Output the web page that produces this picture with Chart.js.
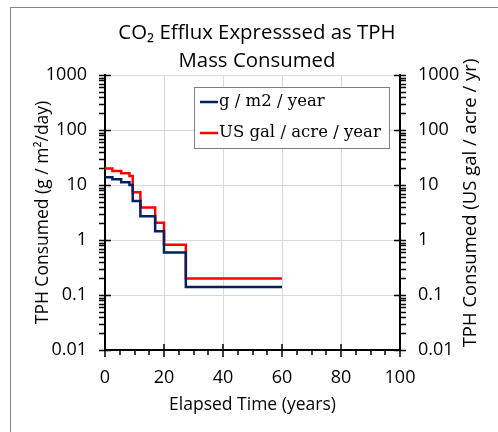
<!DOCTYPE html>
<html><head><meta charset="utf-8">
<script src="https://cdn.jsdelivr.net/npm/chart.js@4.4.1/dist/chart.umd.min.js"></script>
<style>
html,body{margin:0;padding:0;background:#fff;overflow:hidden;}
#wrap{position:relative;width:498px;height:432px;overflow:hidden;}
#frame{position:absolute;left:10px;top:7px;width:600px;height:600px;border:1px solid #868686;box-sizing:border-box;}
canvas{position:absolute;left:0;top:0;}
</style></head><body>
<div id="wrap"><div id="frame"></div><canvas id="c" width="498" height="432"></canvas></div>
<script>
// ---- data ----
const xTicks = [0, 20, 40, 60, 80, 100];
const yTicks = [0.01, 0.1, 1, 10, 100, 1000];
const stepYears   = [0, 2.5, 5.5, 8.3, 9.4, 12, 17, 20, 27.4, 60];
const gM2Year     = [13.8, 12.7, 11.2, 10.0, 5.1, 2.7, 1.44, 0.59, 0.14, 0.14];
const galAcreYear = [20, 17.9, 16.3, 14.6, 7.4, 3.9, 2.05, 0.82, 0.2, 0.2];
const seriesNames = ['g / m2 / year', 'US gal / acre / year'];
const titleLines = ['CO\u2082 Efflux Expresssed as TPH', 'Mass Consumed'];
const xTitle = 'Elapsed Time (years)';
const yTitle = 'TPH Consumed (g / m\u00b2/day)';
const y2Title = 'TPH Consumed (US gal / acre / yr)';

const BLUE = '#002060', RED = '#ff0000';
const SANS = '"Open Sans", Lato, sans-serif';

const toPts = (xs, ys) => xs.map((x, i) => ({x: x, y: ys[i]}));

const tickPlugin = {
  id: 'tickMarks',
  afterDraw(chart) {
    const ctx = chart.ctx;
    const {left, right, top, bottom} = chart.chartArea;
    const xs = chart.scales.x, y = chart.scales.y;
    ctx.save();
    ctx.strokeStyle = '#000';
    ctx.lineWidth = 1.5;
    ctx.beginPath();
    // x axis ticks
    for (let v = xTicks[0]; v <= xTicks[xTicks.length - 1]; v += 5) {
      const px = Math.round(xs.getPixelForValue(v));
      const major = xTicks.includes(v);
      ctx.moveTo(px, bottom - (major ? 6 : 0));
      ctx.lineTo(px, bottom + (major ? 7 : 5));
    }
    // y axes ticks (both sides)
    for (let k = -2; k <= 3; k++) {
      for (let m = 1; m <= 9; m++) {
        const v = m * Math.pow(10, k);
        if (v > 1000.0001) break;
        const py = Math.round(y.getPixelForValue(v)) + 0.5;
        const major = (m === 1);
        ctx.moveTo(left - 6, py);
        ctx.lineTo(left + (major ? 6 : 0), py);
        ctx.moveTo(right - (major ? 6 : 0), py);
        ctx.lineTo(right + 6, py);
      }
    }
    ctx.stroke();

    // right axis title (reads bottom-to-top)
    ctx.fillStyle = '#000';
    ctx.font = '18.5px ' + SANS;
    ctx.textAlign = 'center';
    ctx.textBaseline = 'middle';
    ctx.translate(471, 203);
    ctx.rotate(-Math.PI / 2);
    ctx.fillText(y2Title, 0, 0);
    ctx.restore();

    // legend box
    ctx.save();
    const lx = 194, ly = 87, lw = 195, lh = 61;
    ctx.fillStyle = '#fff';
    ctx.fillRect(lx, ly, lw, lh);
    ctx.strokeStyle = '#7f7f7f';
    ctx.lineWidth = 1;
    ctx.strokeRect(lx + 0.5, ly + 0.5, lw, lh);
    ctx.font = '16.5px "DejaVu Serif", "Liberation Serif", serif';
    ctx.textAlign = 'left';
    ctx.textBaseline = 'middle';
    chart.data.datasets.forEach((ds, i) => {
      const cy = ly + 15 + i * 31;
      ctx.strokeStyle = ds.borderColor;
      ctx.lineWidth = 2.5;
      ctx.beginPath();
      ctx.moveTo(lx + 6, cy);
      ctx.lineTo(lx + 24, cy);
      ctx.stroke();
      ctx.fillStyle = '#000';
      ctx.fillText(ds.label, lx + 25, cy);
    });
    ctx.restore();
  }
};

const gridColor = '#d9d9d9';

new Chart(document.getElementById('c'), {
  type: 'line',
  data: {
    datasets: [
      {label: seriesNames[0], data: toPts(stepYears, gM2Year), borderColor: BLUE, backgroundColor: BLUE,
       borderWidth: 2.5, stepped: true, pointRadius: 0, fill: false, yAxisID: 'y'},
      {label: seriesNames[1], data: toPts(stepYears, galAcreYear), borderColor: RED, backgroundColor: RED,
       borderWidth: 2.5, stepped: true, pointRadius: 0, fill: false, yAxisID: 'y2'}
    ]
  },
  options: {
    responsive: false,
    animation: false,
    layout: {padding: {left: 16, right: 0, top: 0, bottom: 0}},
    plugins: {
      legend: {display: false},
      tooltip: {enabled: false},
      title: {
        display: true, text: titleLines, color: '#000',
        font: {family: SANS, size: 20.4, weight: 'normal', lineHeight: 28 / 20.4},
        padding: {top: 19, bottom: 0}
      }
    },
    scales: {
      x: {
        type: 'linear', min: 0, max: 100,
        afterBuildTicks: s => { s.ticks = xTicks.map(v => ({value: v})); },
        afterFit: s => { s.height = 82; },
        grid: {color: gridColor, lineWidth: 1, drawTicks: false},
        border: {color: '#000', width: 2},
        ticks: {color: '#000', font: {family: SANS, size: 18}, padding: 17, maxRotation: 0,
                callback: v => String(v)},
        title: {display: true, text: xTitle, color: '#000', font: {family: SANS, size: 17.5},
                padding: {top: 0, bottom: 16}}
      },
      y: {
        type: 'logarithmic', position: 'left', min: 0.01, max: 1000,
        afterBuildTicks: s => { s.ticks = yTicks.map(v => ({value: v})); },
        afterFit: s => { s.width = 89; },
        grid: {color: gridColor, lineWidth: 1, drawTicks: false},
        border: {color: '#000', width: 2},
        ticks: {color: '#000', font: {family: SANS, size: 18}, padding: 18,
                callback: v => String(v)},
        title: {display: true, text: yTitle, color: '#000', font: {family: SANS, size: 17.5},
                padding: {top: 17, bottom: 0}}
      },
      y2: {
        type: 'logarithmic', position: 'right', min: 0.01, max: 1000,
        afterBuildTicks: s => { s.ticks = yTicks.map(v => ({value: v})); },
        afterFit: s => { s.width = 98; },
        grid: {drawOnChartArea: false, drawTicks: false},
        border: {color: '#000', width: 2},
        ticks: {color: '#000', font: {family: SANS, size: 18}, padding: 18,
                callback: v => String(v)},
        title: {display: false, text: y2Title}
      }
    }
  },
  plugins: [tickPlugin]
});
</script>
</body></html>
